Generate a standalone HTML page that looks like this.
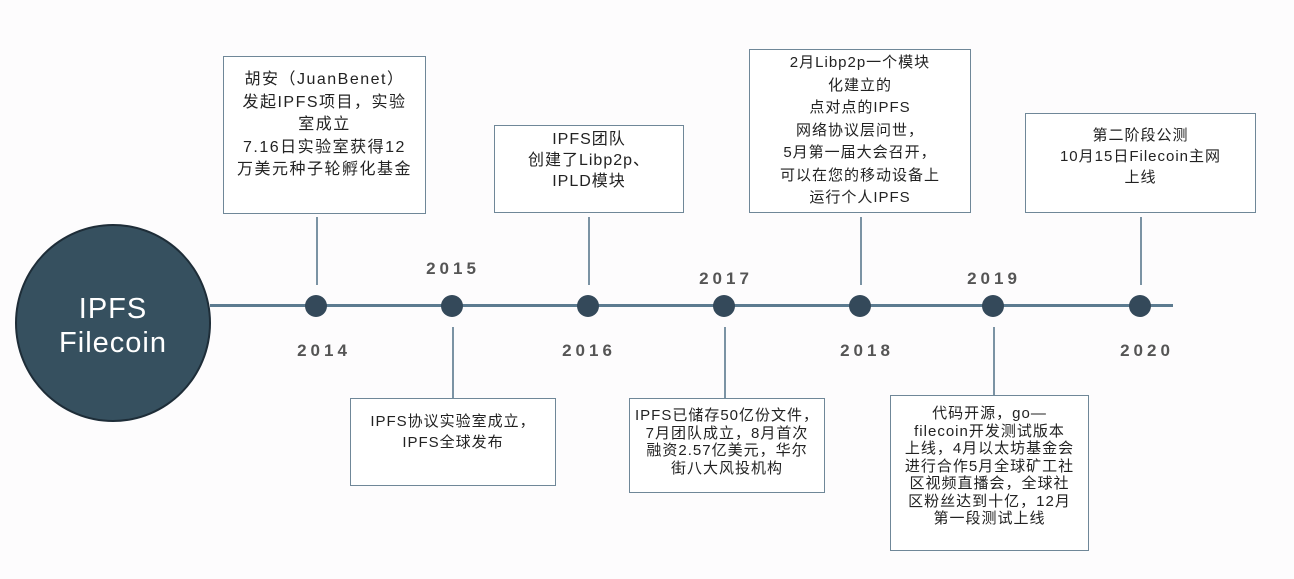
<!DOCTYPE html>
<html><head><meta charset="utf-8"><style>
body{margin:0;width:1294px;height:579px;background:#fdfcfd;position:relative;overflow:hidden;font-family:"Liberation Sans","Noto Sans CJK SC",sans-serif;}
.b{position:absolute;border:1.5px solid #6f8798;background:#fff;box-sizing:border-box;text-align:center;font-size:15px;line-height:21px;color:#222;letter-spacing:1px;white-space:nowrap;}
.v{position:absolute;width:1.5px;background:#7b93a4;}
.d{position:absolute;width:22px;height:22px;border-radius:50%;background:#34495a;}
.y{position:absolute;font-weight:bold;font-size:17px;letter-spacing:4px;color:#555;transform:translateX(-50%);}
</style></head><body>
<div style="position:absolute;left:210px;top:304px;width:963px;height:3px;background:#5c7b90"></div>
<div style="position:absolute;left:15px;top:224px;width:196px;height:198px;border-radius:50%;background:#36505f;border:2px solid #1e2d38;box-sizing:border-box;color:#fff;text-align:center;font-size:29px;line-height:34px;padding-top:66px;letter-spacing:1px">IPFS<br>Filecoin</div>
<div class="d" style="left:305px;top:295px"></div>
<div class="d" style="left:441px;top:295px"></div>
<div class="d" style="left:577px;top:295px"></div>
<div class="d" style="left:713px;top:295px"></div>
<div class="d" style="left:849px;top:295px"></div>
<div class="d" style="left:982px;top:295px"></div>
<div class="d" style="left:1129px;top:295px"></div>
<div class="v" style="left:316px;top:217px;height:68px"></div>
<div class="v" style="left:588px;top:217px;height:68px"></div>
<div class="v" style="left:860px;top:217px;height:68px"></div>
<div class="v" style="left:1140px;top:217px;height:68px"></div>
<div class="v" style="left:452px;top:327px;height:71px"></div>
<div class="v" style="left:724px;top:327px;height:71px"></div>
<div class="v" style="left:993px;top:327px;height:68px"></div>
<div class="y" style="left:453px;top:259px">2015</div>
<div class="y" style="left:324px;top:341px">2014</div>
<div class="y" style="left:589px;top:341px">2016</div>
<div class="y" style="left:726px;top:269px">2017</div>
<div class="y" style="left:867px;top:341px">2018</div>
<div class="y" style="left:994px;top:269px">2019</div>
<div class="y" style="left:1147px;top:341px">2020</div>
<div class="b" style="left:223px;top:56px;width:203px;height:158px;padding-top:12px;font-size:16px;letter-spacing:1.5px;line-height:22.5px">胡安（JuanBenet）<br>发起IPFS项目，实验<br>室成立<br>7.16日实验室获得12<br>万美元种子轮孵化基金</div>
<div class="b" style="left:494px;top:125px;width:190px;height:88px;padding-top:3px;font-size:16px">IPFS团队<br>创建了Libp2p、<br>IPLD模块</div>
<div class="b" style="left:749px;top:49px;width:222px;height:164px;padding-top:2px;line-height:22.5px">2月Libp2p一个模块<br>化建立的<br>点对点的IPFS<br>网络协议层问世，<br>5月第一届大会召开，<br>可以在您的移动设备上<br>运行个人IPFS</div>
<div class="b" style="left:1025px;top:113px;width:231px;height:100px;padding-top:11px">第二阶段公测<br>10月15日Filecoin主网<br>上线</div>
<div class="b" style="left:350px;top:398px;width:206px;height:88px;padding-top:12px">IPFS协议实验室成立，<br>IPFS全球发布</div>
<div class="b" style="left:629px;top:398px;width:196px;height:95px;padding-top:8px;line-height:17.5px">IPFS已储存50亿份文件，<br>7月团队成立，8月首次<br>融资2.57亿美元，华尔<br>街八大风投机构</div>
<div class="b" style="left:890px;top:395px;width:199px;height:156px;padding-top:9px;line-height:17.5px">代码开源，go—<br>filecoin开发测试版本<br>上线，4月以太坊基金会<br>进行合作5月全球矿工社<br>区视频直播会，全球社<br>区粉丝达到十亿，12月<br>第一段测试上线</div>
</body></html>
